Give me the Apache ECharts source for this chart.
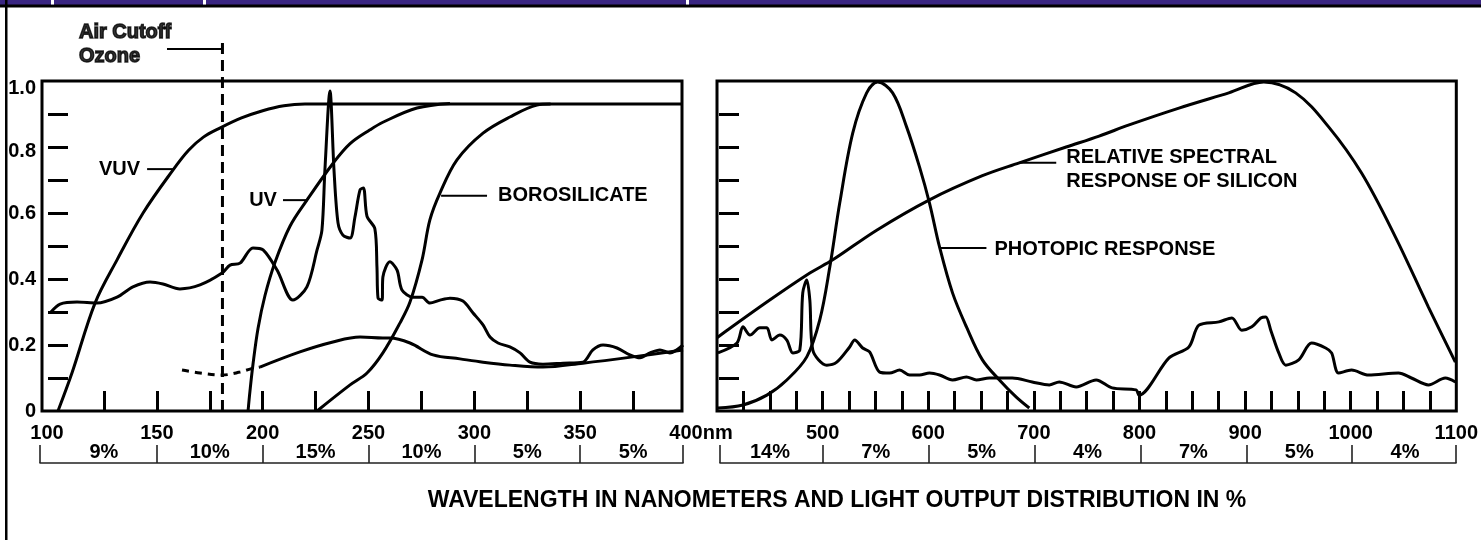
<!DOCTYPE html>
<html>
<head>
<meta charset="utf-8">
<script src="https://cdn.jsdelivr.net/npm/echarts@6/dist/echarts.min.js"></script>
<style>
html,body{margin:0;padding:0;background:#fff;}
#c{width:1481px;height:540px;}
</style>
</head>
<body>
<div id="c"></div>
<script>
// ---------------- DATA (wavelength nm, relative value 0..1) ----------------
const vuv = [[103.3,0],[109.9,0.115],[120.8,0.327],[131.2,0.458],[143.5,0.6],[157.6,0.73],[165,0.79],[172,0.83],[180,0.858],[190,0.888],[200,0.91],[210,0.925],[220,0.93],[398,0.93]];
const uv = [[193.1,0],[194,0.06],[195.4,0.14],[197.8,0.25],[201.1,0.35],[205.8,0.45],[212.9,0.56],[220.9,0.639],[233.2,0.75],[241.3,0.81],[250.7,0.852],[256.8,0.875],[272.9,0.918],[288.5,0.932]];
const borosilicate = [[225.7,0],[241.3,0.079],[249.3,0.115],[256.8,0.176],[264.9,0.267],[269.6,0.33],[275.3,0.458],[279,0.579],[283.8,0.661],[291.8,0.761],[304.1,0.842],[316.8,0.891],[329.6,0.927],[336,0.93]];
const lampUV = [[100,0.3],[104.3,0.324],[112.3,0.33],[121.7,0.327],[131.2,0.345],[138.7,0.376],[146.8,0.391],[152.9,0.385],[160.9,0.37],[170.4,0.382],[180.8,0.418],[184.6,0.442],[189.3,0.448],[195.4,0.494],[200.2,0.488],[206.8,0.427],[214.3,0.336],[220.9,0.376],[225.7,0.488],[228,0.548],[229.4,0.73],[231.8,0.97],[233.7,0.73],[235.6,0.57],[237.9,0.533],[241.3,0.524],[243.6,0.588],[246,0.67],[247.6,0.676],[249.3,0.59],[253,0.552],[254,0.436],[254.5,0.342],[256.4,0.336],[256.8,0.406],[260.1,0.452],[263.5,0.427],[265.8,0.367],[271,0.345],[275.3,0.345],[279,0.327],[283.8,0.336],[288.5,0.342],[294.6,0.333],[299.4,0.297],[304.1,0.261],[307.4,0.224],[311.2,0.206],[316.8,0.194],[321.6,0.176],[326.3,0.148],[332.4,0.142],[341.9,0.145],[351.3,0.148],[356,0.185],[360.8,0.2],[367.4,0.191],[373.5,0.17],[378.3,0.161],[383,0.176],[387.7,0.185],[392.4,0.176],[398.6,0.2]];
const lowerDashed = [[161.9,0.124],[170.4,0.115],[180.8,0.109],[189.3,0.118],[194,0.127],[198.7,0.133]];
const lowerSolid = [[198.7,0.133],[217.6,0.179],[233.2,0.209],[246,0.224],[256.8,0.221],[260.1,0.221],[269.6,0.206],[280.5,0.17],[293.2,0.158],[304.1,0.148],[316.8,0.139],[332.4,0.133],[351.3,0.145],[375,0.164],[398.6,0.185]];

const photopic = [[400.9,0.009],[424.6,0.018],[447.2,0.048],[466.1,0.094],[485,0.164],[497.3,0.276],[506.8,0.436],[516.2,0.63],[528.5,0.842],[541.7,0.964],[552.1,0.997],[566.3,0.964],[579.5,0.861],[591.8,0.739],[601.2,0.63],[610.7,0.497],[623,0.358],[636.2,0.255],[651.3,0.155],[667.4,0.094],[683.4,0.042],[695.7,0.009]];
const silicon = [[400,0.222],[447.2,0.33],[487.9,0.418],[509.6,0.458],[551.2,0.548],[601.2,0.64],[651.3,0.713],[686.2,0.752],[730.6,0.8],[761.8,0.833],[790.2,0.867],[837.4,0.918],[884.6,0.964],[917.7,0.997],[947.9,0.964],[979.1,0.861],[1010.3,0.721],[1042.4,0.527],[1073.6,0.315],[1099.1,0.148]];
const lampVis = [[400.9,0.176],[418.9,0.206],[424.6,0.255],[431.2,0.23],[440.6,0.252],[447.2,0.252],[452,0.215],[459.5,0.23],[466.1,0.215],[471.8,0.176],[478.4,0.185],[481.2,0.358],[485,0.397],[487.9,0.336],[490.7,0.185],[503.9,0.139],[513.4,0.148],[525.6,0.194],[530.4,0.215],[537.9,0.191],[544.5,0.179],[554,0.118],[563.4,0.115],[572.9,0.124],[582.3,0.109],[591.8,0.109],[601.2,0.115],[610.7,0.109],[623,0.094],[636.2,0.103],[645.6,0.094],[657.9,0.1],[679.6,0.1],[698.5,0.088],[714.6,0.079],[724,0.088],[740.1,0.073],[759,0.094],[774.1,0.07],[796.8,0.064],[799.6,0.048],[828,0.161],[846.8,0.194],[856.3,0.26],[875.2,0.27],[887.5,0.282],[896.9,0.245],[906.4,0.255],[914.9,0.282],[919.6,0.285],[924.3,0.245],[931.9,0.176],[938.5,0.139],[950.8,0.155],[963,0.206],[976.3,0.191],[981.9,0.176],[988.5,0.115],[1000.8,0.124],[1016.9,0.109],[1045.2,0.115],[1057.5,0.1],[1073.6,0.079],[1089.6,0.1],[1099.1,0.088]];

// ticks and labels
const leftTicks = [125,150,175,200,225,250,275,300,325,350,375];
const leftLabels = [100,150,200,250,300,350,400];
const rightTicks = [425,450,475,500,525,550,575,600,625,650,675,700,725,750,775,800,825,850,875,900,925,950,975,1000,1025,1050,1075];
const rightLabels = [500,600,700,800,900,1000,1100];
const yTicks = [0.1,0.2,0.3,0.4,0.5,0.6,0.7,0.8,0.9];
const yLabels = [0,0.2,0.4,0.6,0.8,1.0];

// light output distribution
const leftBinEdges = [150,200,250,300,350];
const leftPctPos = [125,175,225,275,325,375];
const leftPct = ['9%','10%','15%','10%','5%','5%'];
const rightBinEdges = [500,600,700,800,900,1000];
const rightPctPos = [450,550,650,750,850,950,1050];
const rightPct = ['14%','7%','5%','4%','7%','5%','4%'];

// annotations (data units)
const airCutoff = [[181,0],[181,1.115]];
const ozoneLead = [[154.8,1.097],[181,1.097]];
const ozoneText = [113.2,1.112];
const vuvLead = [[145.4,0.733],[157.6,0.733]];
const uvLead = [[209.6,0.639],[220.9,0.639]];
const boroLead = [[284.3,0.652],[306,0.652]];
const siliconLead = [[686.2,0.752],[721.2,0.752]];
const photopicLead = [[610.7,0.494],[655.1,0.494]];

// ---------------- LAYOUT ----------------
const FONT = "'Liberation Sans', Arial, Helvetica, sans-serif";
const LX0 = 51, LX1 = 686;      // px of 100 nm and 400 nm
const RX0 = 717, RX1 = 1458;    // px of 400 nm and 1100 nm
const TOP = 81, H = 330;
const lnm = px => 100 + (px - LX0) * 300 / (LX1 - LX0);
const rnm = px => 400 + (px - RX0) * 700 / (RX1 - RX0);
const lBrMin = lnm(40), lBrMax = lnm(683);
const rBrMin = rnm(720), rBrMax = rnm(1456);

const txt = {fontFamily: FONT, fontWeight: 'bold', fontSize: 20, color: '#000'};
const black = '#000';

function curve(data, xi, yi, extra) {
  return Object.assign({
    type: 'line', data: data, xAxisIndex: xi, yAxisIndex: yi,
    showSymbol: false, symbol: 'none', smooth: 0.35, silent: true,
    lineStyle: {color: black, width: 3}, z: 3
  }, extra || {});
}
function leader(data, xi, yi, labelIdx, labelText, pos, dist, offset) {
  const d = data.map((p, i) => {
    if (i !== labelIdx) return {value: p};
    return {value: p, label: Object.assign({show: true, position: pos, distance: dist, offset: offset || [0,0],
      formatter: labelText, lineHeight: 24, align: pos === 'left' ? 'right' : 'left'}, txt)};
  });
  return {
    type: 'line', data: d, xAxisIndex: xi, yAxisIndex: yi, silent: true,
    symbol: 'circle', symbolSize: 0.1, showSymbol: true, itemStyle: {color: black},
    lineStyle: {color: black, width: 2}, clip: false, z: 4,
    label: {show: false}
  };
}

const option = {
  animation: false,
  backgroundColor: '#fff',
  grid: [
    {left: LX0, top: TOP, width: LX1 - LX0, height: H, show: false},
    {left: 42, top: TOP, width: 640, height: H, show: true, borderColor: black, borderWidth: 3, backgroundColor: 'transparent'},
    {left: RX0, top: TOP, width: RX1 - RX0, height: H, show: true, borderColor: black, borderWidth: 3, backgroundColor: 'transparent'},
    {left: 40, top: 445, width: 643, height: 18, show: false},
    {left: 720, top: 445, width: 736, height: 18, show: false}
  ],
  xAxis: [
    {gridIndex: 0, type: 'value', min: 100, max: 400,
      axisLine: {show: false}, splitLine: {show: false},
      axisTick: {show: true, inside: true, length: 20, customValues: leftTicks, lineStyle: {color: black, width: 3}},
      axisLabel: Object.assign({show: true, margin: 12, customValues: leftLabels,
        formatter: v => v === 400 ? '{u|400nm}' : (v === 100 ? '{h|100}' : String(v)),
        rich: {u: Object.assign({padding: [0,0,0,30]}, txt), h: Object.assign({padding: [0,8,0,0]}, txt)}}, txt)},
    {gridIndex: 1, type: 'value', min: 0, max: 1, show: false},
    {gridIndex: 2, type: 'value', min: 400, max: 1100,
      axisLine: {show: false}, splitLine: {show: false},
      axisTick: {show: true, inside: true, length: 20, customValues: rightTicks, lineStyle: {color: black, width: 3}},
      axisLabel: Object.assign({show: true, margin: 12, customValues: rightLabels, formatter: v => String(v)}, txt)},
    {gridIndex: 3, type: 'value', min: lBrMin, max: lBrMax, splitLine: {show: false},
      axisLine: {show: true, lineStyle: {color: '#222', width: 1.6}},
      axisTick: {show: true, inside: true, length: 18, customValues: [lBrMin].concat(leftBinEdges, [lBrMax]), lineStyle: {color: '#222', width: 1.6}},
      axisLabel: Object.assign({show: true, inside: true, margin: 1, customValues: leftPctPos,
        formatter: v => leftPct[leftPctPos.indexOf(v)]}, txt)},
    {gridIndex: 4, type: 'value', min: rBrMin, max: rBrMax, splitLine: {show: false},
      axisLine: {show: true, lineStyle: {color: '#222', width: 1.6}},
      axisTick: {show: true, inside: true, length: 18, customValues: [rBrMin].concat(rightBinEdges, [rBrMax]), lineStyle: {color: '#222', width: 1.6}},
      axisLabel: Object.assign({show: true, inside: true, margin: 1, customValues: rightPctPos,
        formatter: v => rightPct[rightPctPos.indexOf(v)]}, txt)}
  ],
  yAxis: [
    {gridIndex: 0, type: 'value', min: 0, max: 1, position: 'left',
      axisLine: {show: false}, axisTick: {show: false}, splitLine: {show: false},
      axisLabel: Object.assign({show: true, margin: 15, customValues: yLabels,
        formatter: v => v === 0 ? '0' : (v === 1 ? '{t|1.0}' : (v === 0.8 ? '{e|0.8}' : v.toFixed(1))),
        rich: {t: Object.assign({padding: [14,0,0,0]}, txt), e: Object.assign({padding: [9,0,0,0]}, txt)}}, txt)},
    {gridIndex: 0, type: 'value', min: 0, max: 1, position: 'left', offset: 3,
      axisLine: {show: false}, splitLine: {show: false}, axisLabel: {show: false},
      axisTick: {show: true, inside: true, length: 20, customValues: yTicks, lineStyle: {color: black, width: 3}}},
    {gridIndex: 1, type: 'value', min: 0, max: 1, show: false},
    {gridIndex: 2, type: 'value', min: 0, max: 1, position: 'left', offset: -2,
      axisLine: {show: false}, splitLine: {show: false}, axisLabel: {show: false},
      axisTick: {show: true, inside: true, length: 20, customValues: yTicks, lineStyle: {color: black, width: 3}}},
    {gridIndex: 3, type: 'value', min: 0, max: 1, show: false},
    {gridIndex: 4, type: 'value', min: 0, max: 1, show: false}
  ],
  series: [
    curve(vuv, 0, 0),
    curve(uv, 0, 0),
    curve(borosilicate, 0, 0),
    curve(lampUV, 0, 0, {smooth: 0.3}),
    curve(lowerDashed, 0, 0, {lineStyle: {color: black, width: 3, type: [7, 6]}, clip: false}),
    curve(lowerSolid, 0, 0),
    curve(airCutoff, 0, 0, {smooth: false, clip: false, lineStyle: {color: black, width: 3, type: [11, 6]}}),
    leader(ozoneLead, 0, 0, -1, ''),
    {type: 'scatter', xAxisIndex: 0, yAxisIndex: 0, clip: false, silent: true, symbolSize: 0,
      data: [{value: ozoneText, label: Object.assign({show: true, position: 'right', distance: 0, align: 'left',
        formatter: 'Air Cutoff\nOzone', lineHeight: 24, textBorderColor: black, textBorderWidth: 1.4}, txt)}]},
    leader(vuvLead, 0, 0, 0, 'VUV', 'left', 7),
    leader(uvLead, 0, 0, 0, 'UV', 'left', 6),
    leader(boroLead, 0, 0, 1, 'BOROSILICATE', 'right', 11),
    curve(photopic, 2, 3),
    curve(silicon, 2, 3),
    curve(lampVis, 2, 3, {smooth: 0.3}),
    leader(siliconLead, 2, 3, 1, 'RELATIVE SPECTRAL\nRESPONSE OF SILICON', 'right', 10, [0, 7]),
    leader(photopicLead, 2, 3, 1, 'PHOTOPIC RESPONSE', 'right', 8, [0, 2])
  ],
  graphic: [
    {type: 'rect', shape: {x: 0, y: 0, width: 1481, height: 5}, style: {fill: '#3a2682'}, silent: true},
    {type: 'rect', shape: {x: 0, y: 4.5, width: 1481, height: 3}, style: {fill: black}, silent: true},
    {type: 'rect', shape: {x: 51, y: 0, width: 3, height: 4.5}, style: {fill: '#fff'}, silent: true},
    {type: 'rect', shape: {x: 203, y: 0, width: 3, height: 4.5}, style: {fill: '#fff'}, silent: true},
    {type: 'rect', shape: {x: 686, y: 0, width: 3, height: 4.5}, style: {fill: '#fff'}, silent: true},
    {type: 'rect', shape: {x: 5, y: 0, width: 2.5, height: 540}, style: {fill: black}, silent: true},
    {type: 'text', x: 837, y: 501, silent: true,
      style: {text: 'WAVELENGTH IN NANOMETERS AND LIGHT OUTPUT DISTRIBUTION IN %', fill: black,
        fontFamily: FONT, fontWeight: 'bold', fontSize: 23, align: 'center', verticalAlign: 'middle'}}
  ]
};

const chart = echarts.init(document.getElementById('c'), null, {renderer: 'canvas'});
chart.setOption(option);
</script>
</body>
</html>
